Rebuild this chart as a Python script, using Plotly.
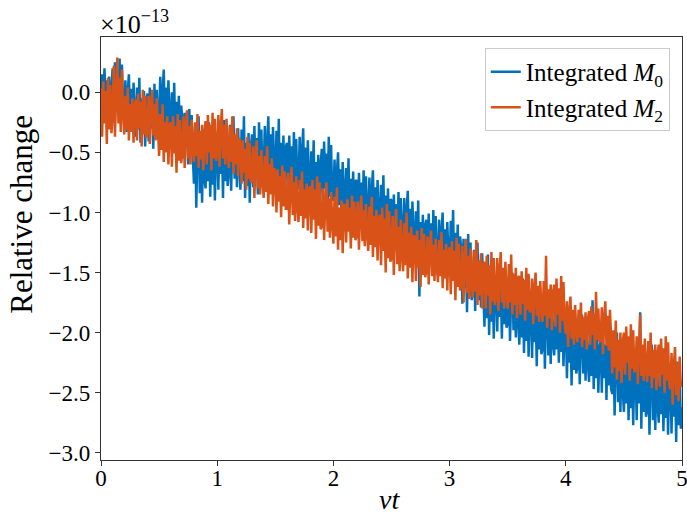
import plotly.graph_objects as go

# x grid: nu*t from 0 to 5 in steps of 0.01 (501 samples)
x_start = 0.0
x_step = 0.01
n_pts = 501
nu_t = [round(x_start + i * x_step, 2) for i in range(n_pts)]

# Relative change (units of 1e-13)
m0 = [
    -0.10, 0.15, -0.06, 0.20, -0.13, 0.10, -0.08, 0.13, -0.15, 0.08,
    0.20, -0.15, 0.25, -0.05, 0.18, -0.20, 0.28, -0.10, 0.23, -0.13,
    -0.20, 0.10, -0.33, 0.00, 0.15, -0.25, 0.03, -0.30, 0.08, -0.18,
    -0.37, 0.04, -0.31, 0.12, -0.42, -0.05, -0.34, 0.01, -0.45, -0.08,
    -0.01, -0.41, 0.04, -0.30, -0.04, -0.47, 0.07, -0.36, 0.02, -0.39,
    -0.22, 0.13, -0.37, 0.01, 0.19, -0.28, 0.04, -0.34, 0.10, -0.19,
    -0.37, 0.00, -0.32, 0.08, -0.42, -0.08, -0.34, -0.03, -0.45, -0.11,
    -0.22, -0.55, -0.17, -0.46, -0.24, -0.60, -0.14, -0.50, -0.19, -0.53,
    -0.76, -0.28, -0.96, -0.44, -0.20, -0.84, -0.40, -0.92, -0.32, -0.72,
    -0.80, -0.35, -0.74, -0.25, -0.87, -0.45, -0.77, -0.38, -0.90, -0.48,
    -0.34, -0.81, -0.27, -0.68, -0.37, -0.88, -0.23, -0.74, -0.30, -0.78,
    -0.66, -0.27, -0.82, -0.40, -0.20, -0.72, -0.36, -0.79, -0.30, -0.62,
    -0.81, -0.31, -0.74, -0.20, -0.88, -0.42, -0.78, -0.34, -0.92, -0.45,
    -0.35, -0.79, -0.28, -0.66, -0.38, -0.85, -0.25, -0.72, -0.31, -0.76,
    -0.64, -0.28, -0.83, -0.42, -0.20, -0.70, -0.35, -0.80, -0.29, -0.60,
    -0.80, -0.32, -0.73, -0.22, -0.87, -0.42, -0.76, -0.36, -0.90, -0.46,
    -0.42, -0.84, -0.36, -0.72, -0.45, -0.90, -0.33, -0.78, -0.39, -0.81,
    -0.76, -0.37, -0.92, -0.50, -0.30, -0.82, -0.46, -0.89, -0.40, -0.72,
    -0.91, -0.49, -0.85, -0.40, -0.97, -0.58, -0.88, -0.52, -1.00, -0.61,
    -0.47, -0.93, -0.41, -0.80, -0.51, -1.00, -0.37, -0.87, -0.44, -0.90,
    -0.89, -0.56, -1.02, -0.67, -0.50, -0.94, -0.64, -1.00, -0.58, -0.86,
    -1.02, -0.63, -0.96, -0.55, -1.07, -0.72, -0.99, -0.66, -1.10, -0.74,
    -0.73, -1.10, -0.67, -0.99, -0.75, -1.15, -0.65, -1.04, -0.70, -1.07,
    -1.04, -0.71, -1.17, -0.82, -0.65, -1.09, -0.79, -1.15, -0.73, -1.01,
    -1.17, -0.77, -1.11, -0.69, -1.22, -0.86, -1.14, -0.80, -1.25, -0.89,
    -0.90, -1.25, -0.85, -1.15, -0.93, -1.30, -0.83, -1.20, -0.88, -1.23,
    -1.23, -0.88, -1.37, -0.99, -0.82, -1.28, -0.97, -1.34, -0.91, -1.20,
    -1.41, -0.99, -1.35, -0.90, -1.70, -1.08, -1.38, -1.02, -1.50, -1.11,
    -1.06, -1.45, -1.01, -1.34, -1.09, -1.50, -0.98, -1.39, -1.03, -1.42,
    -1.39, -1.06, -1.52, -1.17, -1.00, -1.44, -1.14, -1.50, -1.08, -1.36,
    -1.51, -1.07, -1.45, -0.98, -1.57, -1.17, -1.48, -1.10, -1.60, -1.20,
    -1.29, -1.76, -1.22, -1.63, -1.32, -1.83, -1.18, -1.69, -1.25, -1.73,
    -1.67, -1.31, -1.82, -1.43, -1.25, -1.73, -1.40, -1.79, -1.34, -1.64,
    -1.95, -1.46, -1.88, -1.35, -2.02, -1.56, -1.91, -1.49, -2.05, -1.60,
    -1.57, -1.99, -1.51, -1.87, -1.60, -2.05, -1.48, -1.93, -1.54, -1.96,
    -1.92, -1.56, -2.07, -1.68, -1.50, -1.98, -1.65, -2.04, -1.59, -1.89,
    -2.10, -1.65, -2.04, -1.55, -2.17, -1.75, -2.07, -1.68, -2.20, -1.78,
    -1.74, -2.21, -1.67, -2.08, -1.77, -2.28, -1.63, -2.14, -1.70, -2.18,
    -2.13, -1.72, -2.30, -1.85, -1.65, -2.19, -1.82, -2.26, -1.75, -2.09,
    -2.19, -1.79, -2.14, -1.70, -2.25, -1.87, -2.16, -1.82, -2.28, -1.90,
    -1.93, -2.38, -1.86, -2.25, -1.96, -2.44, -1.83, -2.31, -1.90, -2.34,
    -2.28, -1.91, -2.43, -2.03, -1.85, -2.34, -2.00, -2.40, -1.94, -2.25,
    -2.41, -2.01, -2.36, -1.73, -2.47, -2.09, -2.38, -2.04, -2.50, -2.12,
    -2.07, -2.50, -2.01, -2.38, -2.10, -2.56, -1.98, -2.44, -2.04, -2.47,
    -2.51, -2.07, -2.69, -2.22, -2.00, -2.58, -2.18, -2.66, -2.11, -2.47,
    -2.66, -2.16, -2.59, -2.05, -2.73, -2.27, -2.63, -2.19, -2.77, -2.30,
    -2.24, -2.73, -2.17, -2.59, -1.83, -2.80, -2.14, -2.66, -2.21, -2.70,
    -2.65, -2.18, -2.85, -2.34, -2.10, -2.73, -2.30, -2.81, -2.22, -2.61,
    -2.75, -2.26, -2.68, -2.15, -2.82, -2.36, -2.71, -2.29, -2.85, -2.40,
    -2.34, -2.84, -2.27, -2.70, -2.38, -2.91, -2.24, -2.77, -2.31, -2.80,
    -2.62,
]

m2 = [
    0.03, -0.37, 0.09, -0.26, 0.01, -0.43, 0.12, -0.31, 0.06, -0.34,
    -0.19, 0.22, -0.37, 0.08, 0.29, -0.26, 0.12, -0.33, 0.19, -0.16,
    -0.35, -0.03, -0.31, 0.04, -0.40, -0.10, -0.33, -0.05, -0.42, -0.12,
    -0.06, -0.40, -0.01, -0.30, -0.08, -0.45, 0.02, -0.35, -0.03, -0.38,
    -0.31, -0.03, -0.43, -0.12, 0.02, -0.36, -0.10, -0.40, -0.05, -0.29,
    -0.53, -0.18, -0.48, -0.10, -0.58, -0.25, -0.50, -0.20, -0.60, -0.28,
    -0.25, -0.62, -0.20, -0.51, -0.28, -0.67, -0.18, -0.57, -0.23, -0.59,
    -0.50, -0.20, -0.63, -0.30, -0.15, -0.55, -0.28, -0.60, -0.23, -0.48,
    -0.58, -0.25, -0.53, -0.18, -0.63, -0.32, -0.56, -0.27, -0.65, -0.34,
    -0.24, -0.60, -0.19, -0.50, -0.27, -0.65, -0.17, -0.55, -0.22, -0.57,
    -0.50, -0.19, -0.62, -0.29, -0.14, -0.55, -0.27, -0.60, -0.22, -0.47,
    -0.63, -0.28, -0.58, -0.20, -0.68, -0.35, -0.60, -0.30, -0.70, -0.38,
    -0.44, -0.76, -0.40, -0.67, -0.47, -0.81, -0.37, -0.72, -0.42, -0.74,
    -0.75, -0.45, -0.88, -0.55, -0.40, -0.80, -0.53, -0.85, -0.48, -0.73,
    -0.88, -0.53, -0.83, -0.45, -0.93, -0.60, -0.85, -0.55, -0.95, -0.63,
    -0.68, -1.00, -0.64, -0.91, -0.70, -1.04, -0.61, -0.95, -0.66, -0.97,
    -0.97, -0.67, -1.10, -0.77, -0.62, -1.02, -0.75, -1.07, -0.70, -0.95,
    -1.08, -0.73, -1.03, -0.66, -1.13, -0.81, -1.05, -0.76, -1.15, -0.83,
    -0.78, -1.17, -0.73, -1.06, -0.81, -1.22, -0.70, -1.11, -0.75, -1.14,
    -1.11, -0.80, -1.23, -0.90, -0.75, -1.16, -0.88, -1.21, -0.83, -1.08,
    -1.26, -0.87, -1.20, -0.79, -1.31, -0.96, -1.23, -0.90, -1.34, -0.98,
    -0.93, -1.25, -0.89, -1.16, -0.96, -1.30, -0.86, -1.21, -0.91, -1.23,
    -1.19, -0.91, -1.31, -1.00, -0.86, -1.24, -0.98, -1.28, -0.93, -1.17,
    -1.32, -0.95, -1.27, -0.87, -1.37, -1.03, -1.29, -0.98, -1.40, -1.06,
    -1.02, -1.44, -0.96, -1.32, -1.05, -1.50, -0.93, -1.38, -0.99, -1.41,
    -1.38, -1.03, -1.52, -1.14, -0.97, -1.43, -1.12, -1.49, -1.06, -1.35,
    -1.49, -1.09, -1.44, -1.00, -1.55, -1.17, -1.46, -1.12, -1.58, -1.20,
    -1.20, -1.57, -1.15, -1.46, -1.23, -1.62, -1.13, -1.52, -1.18, -1.54,
    -1.48, -1.20, -1.60, -1.29, -1.15, -1.53, -1.27, -1.57, -1.22, -1.46,
    -1.58, -1.23, -1.53, -1.16, -1.63, -1.31, -1.55, -1.26, -1.65, -1.33,
    -1.29, -1.68, -1.24, -1.57, -1.32, -1.73, -1.21, -1.62, -1.26, -1.65,
    -1.61, -1.28, -1.75, -1.39, -1.22, -1.67, -1.36, -1.72, -1.30, -1.58,
    -1.71, -1.32, -1.66, -1.23, -1.77, -1.40, -1.69, -1.34, -1.80, -1.43,
    -1.41, -1.80, -1.36, -1.69, -1.44, -1.85, -1.33, -1.74, -1.38, -1.77,
    -1.69, -1.38, -1.82, -1.49, -1.33, -1.75, -1.46, -1.80, -1.41, -1.67,
    -1.80, -1.43, -1.75, -1.35, -1.85, -1.51, -1.77, -1.46, -1.88, -1.54,
    -1.53, -1.85, -1.49, -1.76, -1.56, -1.90, -1.46, -1.81, -1.51, -1.83,
    -1.82, -1.55, -1.93, -1.64, -1.50, -1.86, -1.61, -1.91, -1.57, -1.79,
    -1.91, -1.57, -1.86, -1.36, -1.96, -1.64, -1.88, -1.60, -1.98, -1.67,
    -1.60, -1.95, -1.55, -1.85, -1.63, -2.00, -1.53, -1.90, -1.58, -1.93,
    -2.01, -1.74, -2.12, -1.83, -1.70, -2.05, -1.81, -2.10, -1.77, -1.99,
    -2.08, -1.81, -2.04, -1.75, -2.12, -1.87, -2.06, -1.83, -2.14, -1.89,
    -1.82, -2.10, -1.78, -2.02, -1.84, -2.14, -1.66, -2.06, -1.80, -2.08,
    -2.06, -1.79, -2.18, -1.88, -1.74, -2.11, -1.86, -2.15, -1.81, -2.04,
    -2.34, -1.98, -2.29, -1.90, -2.39, -2.06, -2.32, -2.00, -2.42, -2.08,
    -2.00, -2.35, -1.95, -2.25, -2.03, -2.40, -1.93, -2.30, -1.98, -2.33,
    -2.31, -2.03, -2.43, -2.12, -1.85, -2.36, -2.10, -2.40, -2.05, -2.29,
    -2.41, -2.07, -2.36, -2.00, -2.46, -2.14, -2.38, -2.10, -2.48, -2.17,
    -2.10, -2.45, -2.05, -2.35, -2.13, -2.50, -2.03, -2.40, -2.08, -2.43,
    -2.47, -2.17, -2.60, -2.27, -2.12, -2.52, -2.25, -2.57, -2.20, -2.45,
    -2.40,
]

series_names = ["Integrated <i>M</i><sub>0</sub>", "Integrated <i>M</i><sub>2</sub>"]
series_colors = ["#0072BD", "#D95319"]

x_ticks = [0, 1, 2, 3, 4, 5]
x_ticktext = ["0", "1", "2", "3", "4", "5"]
y_ticks = [-3.0, -2.5, -2.0, -1.5, -1.0, -0.5, 0.0]
y_ticktext = ["\u22123.0", "\u22122.5", "\u22122.0", "\u22121.5", "\u22121.0", "\u22120.5", "0.0"]

FONT = "Liberation Serif"

fig = go.Figure()
for name, ys, col in zip(series_names, [m0, m2], series_colors):
    fig.add_trace(go.Scatter(x=nu_t, y=ys, mode="lines", name=name,
                             line=dict(color=col, width=2.5)))

fig.update_layout(
    width=687, height=517,
    margin=dict(l=101, r=5, t=37, b=57, autoexpand=False),
    plot_bgcolor="white", paper_bgcolor="white",
    font=dict(family=FONT, size=23, color="black"),
    showlegend=True,
    legend=dict(x=0.979, y=0.974, xanchor="right", yanchor="top",
                bgcolor="rgba(255,255,255,0.85)", bordercolor="#cccccc",
                borderwidth=1, font=dict(family=FONT, size=25),
                tracegroupgap=0),
    xaxis=dict(range=[0, 5], tickvals=x_ticks, ticktext=x_ticktext,
               showgrid=False, zeroline=False, showline=True, mirror=True,
               linecolor="#333333", linewidth=1.2, ticks="outside",
               ticklen=5, tickcolor="#333333", automargin=False,
               ticklabeloverflow="allow", ticklabelstandoff=-8,
               tickfont=dict(family=FONT, size=23)),
    yaxis=dict(range=[-3.06, 0.46], tickvals=y_ticks, ticktext=y_ticktext,
               showgrid=False, zeroline=False, showline=True, mirror=True,
               linecolor="#333333", linewidth=1.2, ticks="outside",
               ticklen=5, tickcolor="#333333", automargin=False,
               ticklabeloverflow="allow",
               tickfont=dict(family=FONT, size=23)),
)

# axis titles (placed as in the reference)
fig.add_annotation(text="Relative change", xref="paper", yref="paper",
                   x=-0.136, y=0.582, xanchor="center", yanchor="middle",
                   textangle=-90, showarrow=False,
                   font=dict(family=FONT, size=31))
fig.add_annotation(text="<i>\u03bdt</i>", xref="paper", yref="paper",
                   x=0.497, y=-0.094, xanchor="center", yanchor="middle",
                   showarrow=False, font=dict(family=FONT, size=28))

fig.add_annotation(text="\u00d710<sup>\u221213</sup>", xref="paper", yref="paper",
                   x=0, y=1, xanchor="left", yanchor="bottom", showarrow=False,
                   font=dict(family=FONT, size=26), xshift=-3, yshift=-4)

fig.write_html("out.html")
